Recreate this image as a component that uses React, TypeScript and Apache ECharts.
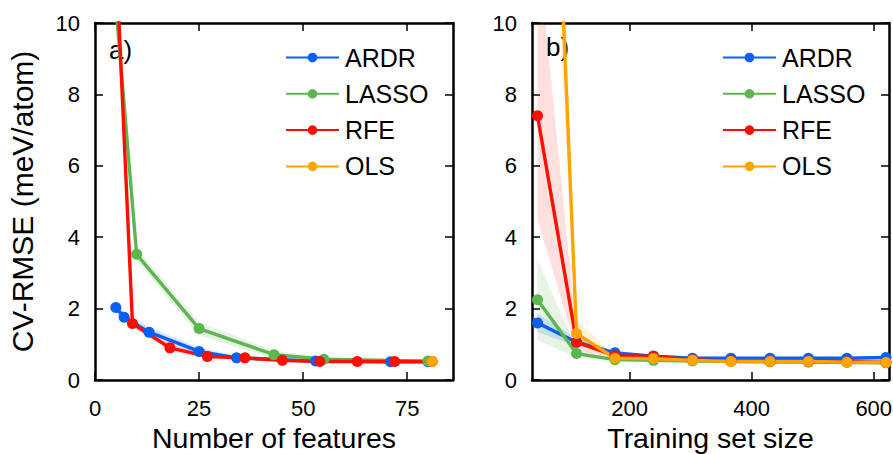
import React, { useEffect, useRef } from 'react';
import * as echarts from 'echarts';

// ---------- Panel a): number of features ----------
const ardrFeatX = [5, 7, 13, 25, 34, 53, 71, 80];
const ardrFeatY = [2.03, 1.76, 1.34, 0.8, 0.62, 0.53, 0.51, 0.51];
const ardrFeatLo = [1.88, 1.62, 1.2, 0.7, 0.55, 0.48, 0.47, 0.47];
const ardrFeatHi = [2.18, 1.9, 1.48, 0.9, 0.69, 0.58, 0.55, 0.55];

const lassoFeatX = [5, 10, 25, 43, 55, 80];
const lassoFeatY = [10.5, 3.52, 1.44, 0.71, 0.58, 0.53];
const lassoFeatLo = [10.2, 3.35, 1.24, 0.6, 0.52, 0.49];
const lassoFeatHi = [10.8, 3.69, 1.64, 0.82, 0.64, 0.57];

const rfeFeatX = [5, 9, 18, 27, 36, 45, 54, 63, 72, 81];
const rfeFeatY = [12, 1.58, 0.9, 0.66, 0.62, 0.55, 0.52, 0.52, 0.52, 0.52];
const rfeFeatLo = [11.8, 1.48, 0.8, 0.59, 0.56, 0.5, 0.48, 0.48, 0.48, 0.48];
const rfeFeatHi = [12.2, 1.68, 1.0, 0.73, 0.68, 0.6, 0.56, 0.56, 0.56, 0.56];

const olsFeatX = [81];
const olsFeatY = [0.52];

// ---------- Panel b): training set size ----------
const trainX = [49, 113, 176, 239, 303, 366, 430, 493, 556, 620];
const ardrTrainY = [1.6, 1.06, 0.76, 0.67, 0.61, 0.61, 0.61, 0.61, 0.61, 0.63];
const ardrTrainLo = [1.34, 0.95, 0.71, 0.63, 0.57, 0.57, 0.57, 0.57, 0.57, 0.59];
const ardrTrainHi = [1.87, 1.17, 0.81, 0.71, 0.65, 0.65, 0.65, 0.65, 0.65, 0.67];

const lassoTrainY = [2.25, 0.74, 0.57, 0.55, 0.53, 0.52, 0.51, 0.5, 0.49, 0.48];
const lassoTrainLo = [1.11, 0.62, 0.53, 0.52, 0.5, 0.49, 0.48, 0.47, 0.46, 0.45];
const lassoTrainHi = [3.37, 0.86, 0.61, 0.58, 0.56, 0.55, 0.54, 0.53, 0.52, 0.51];

const rfeTrainY = [7.4, 1.06, 0.68, 0.66, 0.57, 0.53, 0.52, 0.52, 0.51, 0.5];
const rfeTrainLo = [4.48, 0.85, 0.6, 0.62, 0.54, 0.5, 0.49, 0.49, 0.48, 0.47];
const rfeTrainHi = [12.2, 1.3, 0.76, 0.7, 0.6, 0.56, 0.55, 0.55, 0.54, 0.53];

const olsTrainY = [27.5, 1.3, 0.61, 0.6, 0.55, 0.52, 0.52, 0.52, 0.5, 0.49];
const olsTrainLo = [22, 1.0, 0.56, 0.56, 0.52, 0.49, 0.49, 0.49, 0.47, 0.46];
const olsTrainHi = [33, 1.7, 0.66, 0.64, 0.58, 0.55, 0.55, 0.55, 0.53, 0.52];

// ---------- Axes / labels ----------
const featTicks = [0, 25, 50, 75];
const trainTicks = [200, 400, 600];
const methodNames = ['ARDR', 'LASSO', 'RFE', 'OLS'];

const FONT = "'Liberation Sans', Arial, Helvetica, sans-serif";
const COLORS: Record<string, string> = {
  ARDR: '#0a60f5',
  LASSO: '#5cb84e',
  RFE: '#ff0d00',
  OLS: '#ffa500',
};
const BANDS: Record<string, string> = {
  ARDR: 'rgba(10,96,245,0.16)',
  LASSO: 'rgba(92,184,78,0.15)',
  RFE: 'rgba(255,13,0,0.13)',
  OLS: 'rgba(255,165,0,0.15)',
};

function zip(xs: number[], ys: number[]) {
  return xs.map((x, i) => [x, ys[i]]);
}

function lineSeries(name: string, gi: number, xs: number[], ys: number[]) {
  return {
    type: 'line',
    name,
    xAxisIndex: gi * 2,
    yAxisIndex: gi * 2,
    data: zip(xs, ys),
    symbol: 'circle',
    symbolSize: 11,
    showSymbol: true,
    clip: true,
    z: 3,
    lineStyle: { color: COLORS[name], width: 3.4 },
    itemStyle: { color: COLORS[name] },
    emphasis: { disabled: true },
  };
}

function bandSeries(name: string, gi: number, xs: number[], lo: number[], hi: number[]) {
  return {
    type: 'custom',
    name: name + ' band',
    xAxisIndex: gi * 2,
    yAxisIndex: gi * 2,
    silent: true,
    clip: true,
    z: 1,
    data: xs.map((x, i) => [x, lo[i], hi[i]]),
    encode: { x: 0, y: [1, 2] },
    renderItem: (params: any, api: any) => {
      if (params.dataIndex !== 0) return null;
      const upper = xs.map((x, i) => api.coord([x, hi[i]]));
      const lower = xs.map((x, i) => api.coord([x, lo[i]])).reverse();
      const cs = params.coordSys;
      return {
        type: 'polygon',
        shape: { points: upper.concat(lower) },
        style: { fill: BANDS[name], stroke: null },
        clipPath: { type: 'rect', shape: { x: cs.x, y: cs.y, width: cs.width, height: cs.height } },
      };
    },
  };
}

const spine = { show: true, onZero: false, lineStyle: { color: '#000', width: 2.5 } };

function xAxes(gi: number, min: number, max: number, ticks: number[], name: string) {
  const base = {
    type: 'value',
    gridIndex: gi,
    min,
    max,
    splitLine: { show: false },
    axisLine: spine,
  };
  return [
    {
      ...base,
      position: 'bottom',
      name,
      nameLocation: 'middle',
      nameGap: 43,
      nameTextStyle: { fontFamily: FONT, fontSize: 28.5, color: '#000' },
      axisTick: { inside: true, length: 8, customValues: ticks, lineStyle: { color: '#000', width: 1.5 } },
      axisLabel: { customValues: ticks, fontFamily: FONT, fontSize: 22, color: '#000', margin: 17 },
    },
    {
      ...base,
      position: 'top',
      axisTick: { inside: true, length: 8, customValues: ticks, lineStyle: { color: '#000', width: 1.5 } },
      axisLabel: { show: false, customValues: ticks },
    },
  ];
}

function yAxes(gi: number, name: string) {
  const base = {
    type: 'value',
    gridIndex: gi,
    min: 0,
    max: 10,
    interval: 2,
    splitLine: { show: false },
    axisLine: spine,
    axisTick: { inside: true, length: 8, lineStyle: { color: '#000', width: 1.5 } },
  };
  return [
    {
      ...base,
      position: 'left',
      name,
      nameLocation: 'middle',
      nameGap: 58,
      nameTextStyle: { fontFamily: FONT, fontSize: 30, color: '#000' },
      axisLabel: { fontFamily: FONT, fontSize: 22, color: '#000', margin: 15 },
    },
    {
      ...base,
      position: 'right',
      axisLabel: { show: false },
    },
  ];
}

function legend(left: number) {
  return {
    orient: 'vertical',
    left,
    top: 40,
    itemWidth: 53,
    itemHeight: 12,
    itemGap: 11.3,
    selectedMode: false,
    data: methodNames,
    textStyle: { fontFamily: FONT, fontSize: 25, color: '#000', padding: [0, 0, 0, 1] },
  };
}

export default function App() {
  const ref = useRef<HTMLDivElement>(null);
  useEffect(() => {
    if (!ref.current) return;
    const chart = echarts.init(ref.current, undefined, { renderer: 'svg' });
    const option: any = {
      animation: false,
      backgroundColor: '#fff',
      grid: [
        { left: 95, top: 23, width: 358, height: 357, outerBoundsMode: 'none', containLabel: false },
        { left: 532, top: 23, width: 357, height: 357, outerBoundsMode: 'none', containLabel: false },
      ],
      xAxis: [
        ...xAxes(0, 0, 86, featTicks, 'Number of features'),
        ...xAxes(1, 40, 625, trainTicks, 'Training set size'),
      ],
      yAxis: [...yAxes(0, 'CV-RMSE (meV/atom)'), ...yAxes(1, '')],
      legend: [legend(280), legend(717)],
      graphic: [
        { type: 'text', left: 109, top: 37, style: { text: 'a)', fontFamily: FONT, fontSize: 26, fill: '#000' } },
        { type: 'text', left: 546, top: 34, style: { text: 'b)', fontFamily: FONT, fontSize: 26, fill: '#000' } },
      ],
      series: [
        bandSeries('ARDR', 0, ardrFeatX, ardrFeatLo, ardrFeatHi),
        bandSeries('LASSO', 0, lassoFeatX, lassoFeatLo, lassoFeatHi),
        bandSeries('RFE', 0, rfeFeatX, rfeFeatLo, rfeFeatHi),
        bandSeries('ARDR', 1, trainX, ardrTrainLo, ardrTrainHi),
        bandSeries('LASSO', 1, trainX, lassoTrainLo, lassoTrainHi),
        bandSeries('RFE', 1, trainX, rfeTrainLo, rfeTrainHi),
        bandSeries('OLS', 1, trainX, olsTrainLo, olsTrainHi),
        lineSeries('ARDR', 0, ardrFeatX, ardrFeatY),
        lineSeries('LASSO', 0, lassoFeatX, lassoFeatY),
        lineSeries('RFE', 0, rfeFeatX, rfeFeatY),
        lineSeries('OLS', 0, olsFeatX, olsFeatY),
        lineSeries('ARDR', 1, trainX, ardrTrainY),
        lineSeries('LASSO', 1, trainX, lassoTrainY),
        lineSeries('RFE', 1, trainX, rfeTrainY),
        lineSeries('OLS', 1, trainX, olsTrainY),
      ],
    };
    chart.setOption(option);
    return () => chart.dispose();
  }, []);
  return (
    <div
      ref={ref}
      style={{ position: 'fixed', left: 0, top: 0, width: 893, height: 454, background: '#fff' }}
    />
  );
}
